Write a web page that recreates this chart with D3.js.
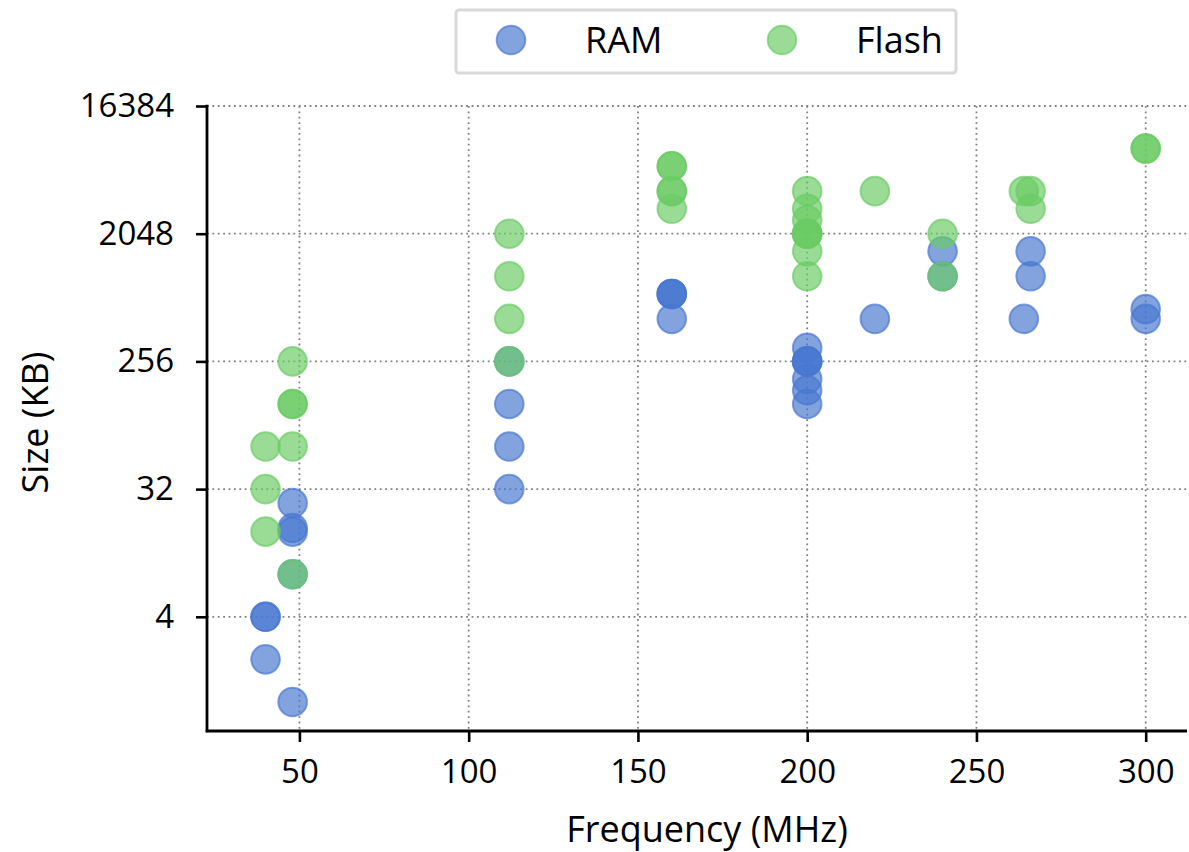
<!DOCTYPE html>
<html>
<head>
<meta charset="utf-8">
<script src="https://cdn.jsdelivr.net/npm/d3@7"></script>
<style>
  body { margin: 0; background: #fff; }
  text { font-family: "Open Sans", "Noto Sans", sans-serif; fill: #000; }
</style>
</head>
<body>
<svg id="chart"></svg>
<script>
// data
var ramFreq  = [40, 40, 40, 48, 48, 48, 48, 48, 112, 112, 112, 112, 160, 160, 160, 160,
                200, 200, 200, 200, 200, 200, 200, 220, 240, 240, 264, 266, 266, 300, 300];
var ramSize  = [4, 4, 2, 25.5, 16, 17, 8, 1, 256, 128, 64, 32, 768, 768, 768, 512,
                320, 256, 256, 256, 192, 160, 128, 512, 1536, 1024, 512, 1536, 1024, 600, 512];
var flashFreq = [40, 40, 40, 48, 48, 48, 48, 48, 112, 112, 112, 112, 160, 160, 160, 160, 160,
                 200, 200, 200, 200, 200, 200, 200, 200, 220, 240, 240, 264, 266, 266, 300, 300];
var flashSize = [64, 32, 16, 256, 128, 128, 64, 8, 2048, 1024, 512, 256, 6144, 6144, 4096, 4096, 3072,
                 4096, 3072, 2560, 2048, 2048, 2048, 1536, 1024, 4096, 2048, 1024, 4096, 4096, 3072, 8192, 8192];
var xTicks = [50, 100, 150, 200, 250, 300];
var yTicks = [4, 32, 256, 2048, 16384];
var seriesNames = ["RAM", "Flash"];
var seriesColors = ["#4878d0", "#6acc64"];

var width = 1189,
    height = 852;
// plot box (don't call it top: window.top is read only)
var pL = 207, pR = 1187, pT = 106, pB = 731;

var svg = d3.select('#chart')
            .attr('width', width)
            .attr('height', height);

var x = d3.scaleLinear()
          .domain([22.7, 312.2])
          .range([pL, pR]);

var y = d3.scaleLog()
          .base(2)
          .domain([0.623, 16384])
          .range([pB, pT]);

// grid
svg.append('g').selectAll('line')
   .data(xTicks)
   .enter()
   .append('line')
     .attr('x1', d => x(d)).attr('x2', d => x(d))
     .attr('y1', pT).attr('y2', pB)
     .attr('stroke', '#808080').attr('stroke-width', 1.8)
     .attr('stroke-dasharray', '1.8,3.6');

svg.append('g').selectAll('line')
   .data(yTicks)
   .enter()
   .append('line')
     .attr('x1', pL).attr('x2', pR)
     .attr('y1', d => y(d)).attr('y2', d => y(d))
     .attr('stroke', '#808080').attr('stroke-width', 1.8)
     .attr('stroke-dasharray', '1.8,3.6');

// points, RAM first then Flash on top
var allSeries = [
  ramFreq.map((f, i) => ({f: f, s: ramSize[i]})),
  flashFreq.map((f, i) => ({f: f, s: flashSize[i]}))
];

allSeries.forEach(function(pts, k){
  svg.append('g').selectAll('circle')
     .data(pts)
     .enter()
     .append('circle')
       .attr('cx', d => x(d.f))
       .attr('cy', d => y(d.s))
       .attr('r', 14.3)
       .attr('fill', seriesColors[k]).attr('fill-opacity', 0.68)
       .attr('stroke', seriesColors[k]).attr('stroke-opacity', 0.68)
       .attr('stroke-width', 2);
});

// axes
var xAxis = d3.axisBottom(x)
              .tickValues(xTicks)
              .tickSize(11)
              .tickPadding(18)
              .tickFormat(d3.format('d'));
var yAxis = d3.axisLeft(y)
              .tickValues(yTicks)
              .tickSize(11)
              .tickPadding(22)
              .tickFormat(d3.format('d'));

var gx = svg.append('g')
            .attr('transform', 'translate(0,' + pB + ')')
            .call(xAxis);
var gy = svg.append('g')
            .attr('transform', 'translate(' + pL + ',0)')
            .call(yAxis);

[gx, gy].forEach(function(g){
  g.select('.domain').remove();
  g.selectAll('.tick line').attr('stroke', '#000').attr('stroke-width', 2.6);
  g.selectAll('.tick text').attr('font-size', 33).attr('fill', '#000')
   .style('font-family', '"Open Sans", sans-serif');
});

// spines
svg.append('line')
   .attr('x1', pL).attr('x2', pL)
   .attr('y1', pT - 1.3).attr('y2', pB + 1.3)
   .attr('stroke', '#000').attr('stroke-width', 2.8);
svg.append('line')
   .attr('x1', pL - 1.3).attr('x2', pR)
   .attr('y1', pB).attr('y2', pB)
   .attr('stroke', '#000').attr('stroke-width', 2.8);

// axis labels
svg.append('text')
   .attr('x', 707)
   .attr('y', 842)
   .attr('text-anchor', 'middle')
   .attr('font-size', 36)
   .text('Frequency (MHz)');

svg.append('text')
   .attr('transform', 'translate(48,' + ((pT + pB) / 2 + 4) + ') rotate(-90)')
   .attr('text-anchor', 'middle')
   .attr('font-size', 36)
   .text('Size (KB)');

// legend
var legend = svg.append('g');
legend.append('rect')
      .attr('x', 456).attr('y', 10)
      .attr('width', 500).attr('height', 63)
      .attr('rx', 3)
      .attr('fill', '#fff')
      .attr('stroke', '#d9d9d9').attr('stroke-width', 3);

var legX = [511, 782];
seriesNames.forEach(function(name, k){
  legend.append('circle')
        .attr('cx', legX[k]).attr('cy', 40)
        .attr('r', 14.3)
        .attr('fill', seriesColors[k]).attr('fill-opacity', 0.68)
        .attr('stroke', seriesColors[k]).attr('stroke-opacity', 0.68)
        .attr('stroke-width', 2);
  legend.append('text')
        .attr('x', legX[k] + 74).attr('y', 53)
        .attr('font-size', 36)
        .text(name);
});
</script>
</body>
</html>
